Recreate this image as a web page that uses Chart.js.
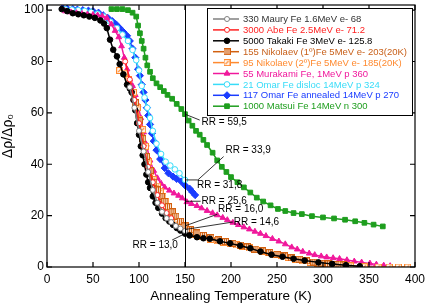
<!DOCTYPE html>
<html>
<head>
<meta charset="utf-8">
<script src="https://cdn.jsdelivr.net/npm/chart.js"></script>
<style>
  html, body { margin: 0; padding: 0; background: #fff; }
  #box { width: 427px; height: 305px; }
</style>
</head>
<body>
<div id="box"><canvas id="grafico"></canvas></div>
<script>
// ---- dados ----
const xTicks = [0, 50, 100, 150, 200, 250, 300, 350, 400];
const yTicks = [0, 20, 40, 60, 80, 100];

const nomes = [
  '330 Maury Fe 1.6MeV e- 68',
  '3000 Abe Fe 2.5MeV e- 71.2',
  '5000 Takaki Fe 3MeV e- 125.8',
  '155 Nikolaev (1º)Fe 5MeV e- 203(20K)',
  '95 Nikolaev (2º)Fe 5MeV e- 185(20K)',
  '55 Murakami Fe, 1MeV p 360',
  '21 Omar Fe disloc 14MeV p 324',
  '117 Omar Fe annealed 14MeV p 270',
  '1000 Matsui Fe 14MeV n 300'
];

const mauryT = [90, 95, 100, 105, 110, 115, 120, 125, 130, 135, 140, 145, 150];
const mauryV = [70, 62, 53, 45, 37, 30, 25, 21.5, 19, 17.5, 16, 15, 14];

const abeT = [85, 90, 95, 100, 105, 110, 115, 120, 125, 130, 135];
const abeV = [80, 73, 65, 56, 47, 39, 33, 28, 24, 21, 19];

const takakiT = [16, 22, 28, 34, 40, 46, 52, 58, 62, 65, 68.5, 72, 76, 79, 83, 87, 90, 92, 94, 96, 98, 100, 102, 104, 106, 108, 110, 112, 115, 118, 121, 125, 129, 133, 137, 141, 145, 150, 155, 163, 170, 177, 188, 199, 210, 221, 232, 244, 256, 268, 280, 295, 310, 325, 340];
const takakiV = [100.4, 99.6, 98.8, 98.4, 98, 97.5, 97, 96, 94.8, 93, 88.5, 84.6, 82, 79, 75, 71, 69.5, 68, 65, 61, 56, 51.5, 47, 43.5, 40, 36, 33, 30.8, 27.5, 25, 23, 20.8, 19, 17.7, 16.4, 15.2, 14.2, 13, 12.3, 11.6, 11.2, 11, 10, 9.2, 8.3, 7.3, 6, 4.8, 4, 3.2, 2.5, 1.8, 1.2, 0.7, 0.3];

const nik1T = [96, 100, 104, 108, 112, 116, 120, 124, 128, 132, 136, 140, 145, 150, 156, 163, 170, 178, 186, 194, 202, 210, 218, 226, 234, 242, 250, 258, 266, 274, 282, 290, 298, 306, 314, 322];
const nik1V = [64, 57, 50, 43, 37.5, 33, 30, 27.5, 25.5, 23.5, 21.5, 19.8, 17.8, 16, 14.5, 13.3, 12.3, 11.4, 10.6, 9.9, 9.2, 8.5, 7.8, 7, 6.3, 5.6, 4.9, 4.3, 3.6, 3, 2.4, 1.9, 1.5, 1.2, 1, 0.8];

const nik2T = [79, 84, 89, 94, 98, 101, 104, 107, 110, 113, 116, 120, 123, 126, 129, 132, 135, 138, 142, 146, 150, 155, 160, 166, 172, 178, 185, 192, 199, 206, 213, 220, 227, 234, 241, 248, 255, 262, 270, 278, 286, 294, 302, 310, 318, 330, 345, 360, 372, 382, 392];
const nik2V = [76.5, 75.5, 73, 68, 62, 57.5, 53.5, 47, 41, 37, 34, 31.5, 29.5, 27.5, 25.5, 23.5, 21.5, 19.5, 17.8, 16, 14.6, 13.6, 12.8, 12, 11.3, 10.8, 10.2, 9.7, 9.2, 8.6, 8, 7.4, 6.8, 6.2, 5.6, 5, 4.4, 3.8, 3.1, 2.4, 1.8, 1.4, 1.1, 0.9, 0.8, 0.4, 0.1, 0, 0, 0, 0];

const murakamiT = [20, 26, 32, 38, 44, 50, 55, 60, 65, 70, 74, 78, 81, 84, 87, 90, 93, 96, 99, 102, 105, 108, 112, 116, 120, 124, 128, 133, 138, 143, 147, 152, 157, 163, 168, 174, 180, 185, 191, 196, 202, 208, 214, 220, 226, 232, 238, 245, 252, 259, 266, 272, 278, 285, 291, 298, 304, 311, 318, 326, 334, 342, 351, 358, 366, 373];
const murakamiV = [99.6, 99.2, 98.9, 98.6, 98.4, 98.2, 98, 97.7, 97, 94.5, 92, 89.5, 86, 81.5, 77, 73, 70.5, 67, 63, 58, 52.5, 47.7, 41.5, 37.5, 34.6, 32.5, 31, 29.8, 28.7, 27.8, 26.8, 25.3, 24.6, 23.8, 22.9, 21.9, 21, 20.2, 19.2, 18.3, 17.3, 16.4, 15.5, 14.7, 13.8, 13, 12.1, 11, 10, 8.9, 7.7, 6.9, 6, 5.3, 4.7, 4.2, 3.8, 3.5, 3.2, 2.7, 2.2, 1.8, 1.4, 1, 0.6, 0.4];

const omarDisT = [20, 27, 34, 41, 48, 55, 62, 69, 76, 82, 88, 93, 97, 100, 103, 106, 109, 112, 115, 119, 124, 129, 134, 139, 144, 150];
const omarDisV = [100.3, 100.2, 100, 99.7, 99.3, 98.6, 97.5, 95.5, 93, 90.5, 88, 84.5, 80.5, 76.5, 70.5, 66, 62, 58, 53, 48, 44, 41, 39.5, 38, 36.5, 33.9];

const omarAnnT = [17, 22, 28, 33, 39, 45, 50, 56, 61, 66, 71, 75, 79, 83, 87, 90, 93, 96, 99, 101, 103, 105, 107, 108.5, 110, 112, 114, 116, 119, 123, 128, 132, 137, 141, 146, 150, 155, 158, 161];
const omarAnnV = [100.8, 100.6, 100.4, 100.2, 100, 99.8, 99.6, 99, 98, 97, 95.7, 94.5, 93, 91.5, 90, 88, 85, 81.5, 77, 74.5, 71, 68, 65, 62, 59, 55.5, 52, 49, 45.5, 42, 38.5, 36.5, 35.2, 34.3, 33.3, 31.8, 30.5, 29.2, 28];

const matsuiT = [70, 76, 82, 88, 93, 97, 99, 101, 103, 105, 107, 109, 112, 115, 119, 123, 127, 131, 136, 141, 146, 150, 154, 158, 162, 166, 170, 174, 180, 185, 190, 195, 200, 207, 214, 221, 228, 235, 243, 251, 259, 268, 277, 288, 300, 312, 324, 335, 345, 355, 365];
const matsuiV = [100.4, 100.4, 100.4, 100, 99, 97.5, 94, 91, 88, 85, 81.5, 78.5, 76, 73.5, 71.5, 70, 68.5, 67, 65.5, 63.5, 61.5, 59.5, 57, 55, 53, 51.5, 49.5, 47.5, 44.5, 41.5, 39, 37, 35, 33, 31, 29, 27, 25.5, 24, 22.6, 21.8, 21, 20.6, 19.8, 19.3, 18.9, 18.4, 17.8, 17.2, 16.5, 15.8];

// anotacoes RR (texto, posicao do texto e da seta em unidades do grafico)
const anotacoes = [
  { texto: 'RR = 59,5', tx: 168, ty: 56.5, seta: [[150, 59.5], [166, 57.2]] },
  { texto: 'RR = 33,9', tx: 194, ty: 45.5, seta: [[150, 33.9], [164, 33.9], [192, 43]] },
  { texto: 'RR = 31,8', tx: 163, ty: 32, seta: [] },
  { texto: 'RR = 25,6', tx: 168, ty: 25.6, seta: [[150, 25.6], [167, 25.6]] },
  { texto: 'RR = 16,0', tx: 186, ty: 22.3, seta: [[150, 16], [185, 20.5]] },
  { texto: 'RR = 14,6', tx: 203, ty: 17.3, seta: [[150, 14.6], [202, 17.5]] },
  { texto: 'RR = 13,0', tx: 93, ty: 8.5, seta: [[150, 13], [136, 10.5]] }
];

function pontos(xs, ys) {
  return xs.map(function (x, i) { return { x: x, y: ys[i] }; });
}

function marcador(tipo, cor) {
  var c = document.createElement('canvas');
  c.width = 7; c.height = 7;
  var g = c.getContext('2d');
  g.fillStyle = '#fff';
  g.fillRect(0.5, 0.5, 6, 6);
  g.strokeStyle = cor;
  g.lineWidth = 1.2;
  g.strokeRect(0.5, 0.5, 6, 6);
  g.beginPath();
  if (tipo === 'cruz') {
    g.moveTo(2.5, 1); g.lineTo(2.5, 6);
    g.moveTo(4.5, 1); g.lineTo(4.5, 6);
  } else {
    g.moveTo(2, 5); g.lineTo(5, 2);
  }
  g.stroke();
  return c;
}

const cores = ['#808080', '#ff2020', '#000000', '#d2600f', '#ff8a30', '#f0189c', '#38dcf8', '#1a3cff', '#1e9e1e'];
const coresTexto = ['#333333', '#ff2020', '#000000', '#c8601a', '#ff8a30', '#f0189c', '#38dcf8', '#1a3cff', '#1e9e1e'];

function serie(i, dados, estilo, raio, cheio) {
  return {
    label: nomes[i],
    data: dados,
    borderColor: cores[i],
    backgroundColor: cheio ? cores[i] : '#ffffff',
    pointBorderColor: cores[i],
    pointBackgroundColor: cheio ? cores[i] : '#ffffff',
    pointStyle: estilo,
    pointRadius: raio,
    pointBorderWidth: 1,
    borderWidth: 1.5,
    showLine: true,
    tension: 0,
    corTexto: coresTexto[i]
  };
}

const datasets = [
  serie(0, pontos(mauryT, mauryV), 'circle', 2.5, false),
  serie(1, pontos(abeT, abeV), 'circle', 2.5, false),
  serie(2, pontos(takakiT, takakiV), 'circle', 2.8, true),
  serie(3, pontos(nik1T, nik1V), marcador('cruz', cores[3]), 3.5, false),
  serie(4, pontos(nik2T, nik2V), marcador('barra', cores[4]), 3.5, false),
  serie(5, pontos(murakamiT, murakamiV), 'triangle', 3.3, true),
  serie(6, pontos(omarDisT, omarDisV), 'circle', 2.8, false),
  serie(7, pontos(omarAnnT, omarAnnV), 'rectRot', 3.6, true),
  serie(8, pontos(matsuiT, matsuiV), 'rect', 3.3, true)
];

const plugDesenho = {
  id: 'desenho',
  afterDatasetsDraw: function (chart) {
    var ctx = chart.ctx;
    var a = chart.chartArea;
    var sx = chart.scales.x, sy = chart.scales.y;
    ctx.save();
    // linha vertical em 150 K
    ctx.strokeStyle = '#000';
    ctx.lineWidth = 1;
    ctx.beginPath();
    ctx.moveTo(Math.round(sx.getPixelForValue(150)) + 0.5, a.top);
    ctx.lineTo(Math.round(sx.getPixelForValue(150)) + 0.5, a.bottom);
    ctx.stroke();

    // anotacoes
    ctx.font = '10px "Liberation Sans", Arial, sans-serif';
    ctx.fillStyle = '#000';
    ctx.textBaseline = 'middle';
    ctx.textAlign = 'left';
    ctx.lineWidth = 0.8;
    anotacoes.forEach(function (an) {
      if (an.seta.length) {
        ctx.beginPath();
        an.seta.forEach(function (p, k) {
          var px = sx.getPixelForValue(p[0]), py = sy.getPixelForValue(p[1]);
          if (k === 0) ctx.moveTo(px, py); else ctx.lineTo(px, py);
        });
        ctx.stroke();
      }
      ctx.fillText(an.texto, sx.getPixelForValue(an.tx), sy.getPixelForValue(an.ty));
    });

    // moldura e ticks para dentro
    ctx.lineWidth = 1.2;
    ctx.strokeStyle = '#000';
    ctx.strokeRect(a.left, a.top, a.right - a.left, a.bottom - a.top);
    ctx.beginPath();
    xTicks.forEach(function (v) {
      var px = sx.getPixelForValue(v);
      ctx.moveTo(px, a.bottom); ctx.lineTo(px, a.bottom - 5);
      ctx.moveTo(px, a.top); ctx.lineTo(px, a.top + 5);
    });
    yTicks.forEach(function (v) {
      var py = sy.getPixelForValue(v);
      ctx.moveTo(a.left, py); ctx.lineTo(a.left + 5, py);
      ctx.moveTo(a.right, py); ctx.lineTo(a.right - 5, py);
    });
    ctx.stroke();

    // legenda dentro do grafico
    var lx = a.left + 160, ly = a.top + 3;
    var lw = a.right - 3 - lx, lh = 107;
    ctx.fillStyle = '#fff';
    ctx.fillRect(lx, ly, lw, lh);
    ctx.lineWidth = 1;
    ctx.strokeRect(lx + 0.5, ly + 0.5, lw, lh);
    ctx.font = '9.5px "Liberation Sans", Arial, sans-serif';
    chart.data.datasets.forEach(function (ds, i) {
      var yy = ly + 11 + i * 10.9;
      ctx.strokeStyle = ds.borderColor;
      ctx.lineWidth = 1.5;
      ctx.beginPath();
      ctx.moveTo(lx + 6, yy); ctx.lineTo(lx + 32, yy);
      ctx.stroke();
      ctx.fillStyle = ds.pointBackgroundColor;
      ctx.strokeStyle = ds.pointBorderColor;
      ctx.lineWidth = 1;
      Chart.helpers.drawPoint(ctx, {
        pointStyle: ds.pointStyle,
        radius: ds.pointRadius,
        rotation: 0,
        borderWidth: 1
      }, lx + 20, yy);
      ctx.fillStyle = ds.corTexto;
      ctx.fillText(ds.label, lx + 36, yy + 0.5);
    });
    ctx.restore();
  }
};

const fonte = '"Liberation Sans", Arial, sans-serif';

new Chart(document.getElementById('grafico'), {
  type: 'line',
  data: { datasets: datasets },
  plugins: [plugDesenho],
  options: {
    responsive: true,
    maintainAspectRatio: false,
    animation: false,
    layout: { padding: { top: 2, right: 12, left: 0, bottom: 0 } },
    plugins: {
      legend: { display: false },
      tooltip: { enabled: false }
    },
    scales: {
      x: {
        type: 'linear',
        min: 0,
        max: 400,
        afterBuildTicks: function (s) { s.ticks = xTicks.map(function (v) { return { value: v }; }); },
        afterFit: function (s) { s.height = 38; s.paddingLeft = 0; s.paddingRight = 0; },
        grid: { display: false, drawTicks: false },
        border: { display: false },
        ticks: { color: '#000', padding: 5, maxRotation: 0, font: { size: 12, family: fonte } },
        title: { display: true, text: 'Annealing Temperature (K)', color: '#000', padding: { top: 0, bottom: 1 }, font: { size: 13.5, family: fonte } }
      },
      y: {
        type: 'linear',
        min: 0,
        max: 102,
        afterBuildTicks: function (s) { s.ticks = yTicks.map(function (v) { return { value: v }; }); },
        afterFit: function (s) { s.width = 47; s.paddingTop = 0; s.paddingBottom = 0; },
        grid: { display: false, drawTicks: false },
        border: { display: false },
        ticks: { color: '#000', padding: 3, font: { size: 12, family: fonte } },
        title: { display: true, text: 'Δρ/Δρ₀', color: '#000', padding: { top: 0, bottom: 2 }, font: { size: 14, family: fonte } }
      }
    }
  }
});
</script>
</body>
</html>
